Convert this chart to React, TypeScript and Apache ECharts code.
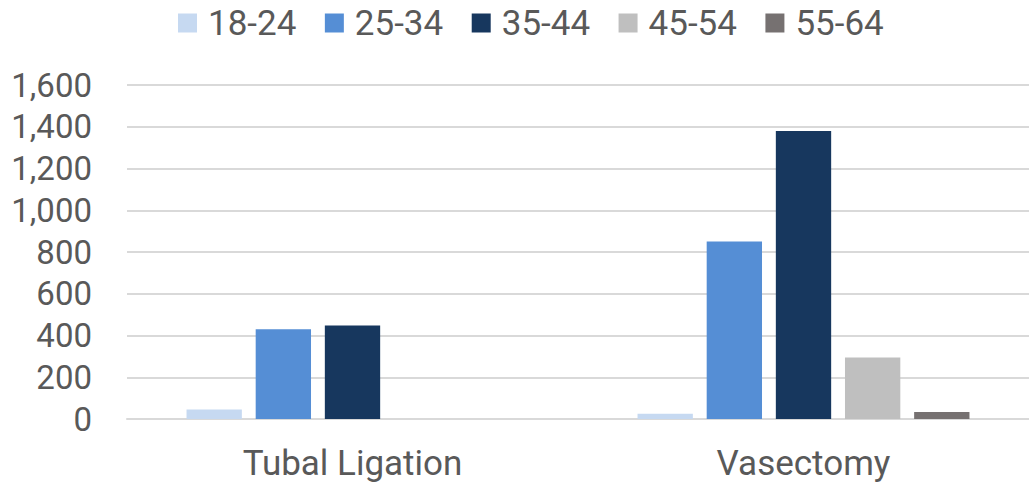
import React, { useEffect, useRef } from "react";
import * as echarts from "echarts";

const categories = ["Tubal Ligation", "Vasectomy"];
const ageGroups = ["18-24", "25-34", "35-44", "45-54", "55-64"];
const s1824 = [45, 25];
const s2534 = [430, 850];
const s3544 = [448, 1380];
const s4554 = [null, 295];
const s5564 = [null, 33];
const colors = ["#c6d9f1", "#558ed5", "#17375e", "#bfbfbf", "#767171"];
const yTicks = { min: 0, max: 1600, interval: 200 };

export default function App() {
  const ref = useRef<HTMLDivElement>(null);
  useEffect(() => {
    if (!ref.current) return;
    const chart = echarts.init(ref.current, null, { renderer: "svg" });
    const seriesData = [s1824, s2534, s3544, s4554, s5564];
    chart.setOption({
      animation: false,
      textStyle: { fontFamily: "Roboto" },
      legend: {
        top: 5,
        left: 178,
        padding: 0,
        itemWidth: 19,
        itemHeight: 19,
        itemGap: 28.5,
        icon: "rect",
        textStyle: {
          fontSize: 35,
          lineHeight: 36,
          color: "#595959",
          fontFamily: "Roboto",
          padding: [0, 0, 0, 6],
        },
        data: ageGroups,
      },
      grid: { left: 127, right: 0, top: 85, bottom: 70, containLabel: false },
      xAxis: {
        type: "category",
        data: categories,
        axisLine: { lineStyle: { color: "#d9d9d9", width: 2 } },
        axisTick: { show: false },
        axisLabel: { fontSize: 35, lineHeight: 36, color: "#595959", margin: 26 },
      },
      yAxis: {
        type: "value",
        min: yTicks.min,
        max: yTicks.max,
        interval: yTicks.interval,
        axisLine: { show: false },
        axisTick: { show: false },
        splitLine: { lineStyle: { color: "#d9d9d9", width: 2 } },
        axisLabel: {
          fontSize: 33,
          color: "#595959",
          margin: 35,
          formatter: (v: number) => v.toLocaleString("en-US"),
        },
      },
      series: ageGroups.map((name, i) => ({
        name,
        type: "bar",
        data: seriesData[i],
        barGap: "25%",
        barCategoryGap: "26.4%",
        itemStyle: { color: colors[i] },
      })),
    });
    return () => chart.dispose();
  }, []);
  return (
    <div
      ref={ref}
      style={{ position: "absolute", left: 0, top: 0, width: 1029, height: 489 }}
    />
  );
}
